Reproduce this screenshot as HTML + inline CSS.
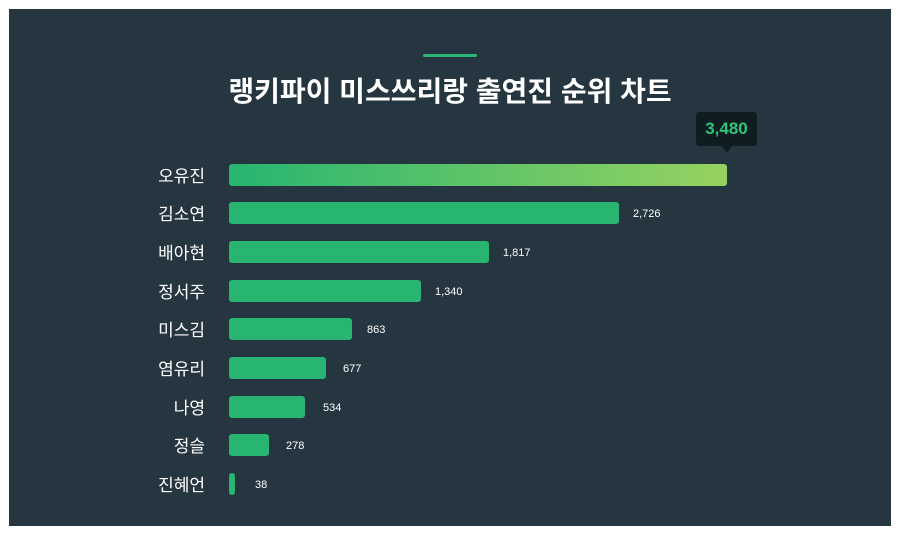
<!DOCTYPE html>
<html><head><meta charset="utf-8"><style>
body{margin:0;width:900px;height:540px;background:#fff;overflow:hidden;font-family:"Liberation Sans","Noto Sans CJK KR",sans-serif;}
.p{position:absolute;left:9px;top:9px;width:882px;height:517px;background:#263640;}
.t{position:absolute;left:0;width:900px;top:70px;text-align:center;color:#fff;font-size:28px;font-weight:bold;}
.ln{position:absolute;left:423px;top:54px;width:54px;height:3px;background:#2bb673;border-radius:2px;}
.n{position:absolute;width:205px;text-align:right;color:#fff;font-size:17px;margin-top:-2px;}
.b{position:absolute;left:229px;height:22px;background:#27b571;border-radius:3px;}
.v{position:absolute;color:#fff;font-size:11px;margin-top:1px;}
.tip{position:absolute;left:696px;top:112px;width:61px;height:34px;background:#0f1c22;border-radius:3px;color:#2bc878;font-weight:bold;font-size:17px;text-align:center;line-height:34px;}
.ar{position:absolute;left:722px;top:146px;border:5px solid transparent;border-top:7px solid #0f1c22;}
</style></head><body>
<div class="p"></div>
<div class="ln"></div>
<div class="t">랭키파이 미스쓰리랑 출연진 순위 차트</div>
<div class="tip">3,480</div><div class="ar"></div>
<div class="n" style="top:164px">오유진</div><div class="b" style="top:164px;width:498px;background:linear-gradient(90deg,#27b571,#96d260)"></div>
<div class="n" style="top:202px">김소연</div><div class="b" style="top:202px;width:390px"></div><div class="v" style="left:633px;top:207px">2,726</div>
<div class="n" style="top:241px">배아현</div><div class="b" style="top:241px;width:260px"></div><div class="v" style="left:503px;top:246px">1,817</div>
<div class="n" style="top:280px">정서주</div><div class="b" style="top:280px;width:192px"></div><div class="v" style="left:435px;top:285px">1,340</div>
<div class="n" style="top:318px">미스김</div><div class="b" style="top:318px;width:123px"></div><div class="v" style="left:367px;top:323px">863</div>
<div class="n" style="top:357px">염유리</div><div class="b" style="top:357px;width:97px"></div><div class="v" style="left:343px;top:362px">677</div>
<div class="n" style="top:396px">나영</div><div class="b" style="top:396px;width:76px"></div><div class="v" style="left:323px;top:401px">534</div>
<div class="n" style="top:434px">정슬</div><div class="b" style="top:434px;width:40px"></div><div class="v" style="left:286px;top:439px">278</div>
<div class="n" style="top:473px">진혜언</div><div class="b" style="top:473px;width:6px"></div><div class="v" style="left:255px;top:478px">38</div>
</body></html>
